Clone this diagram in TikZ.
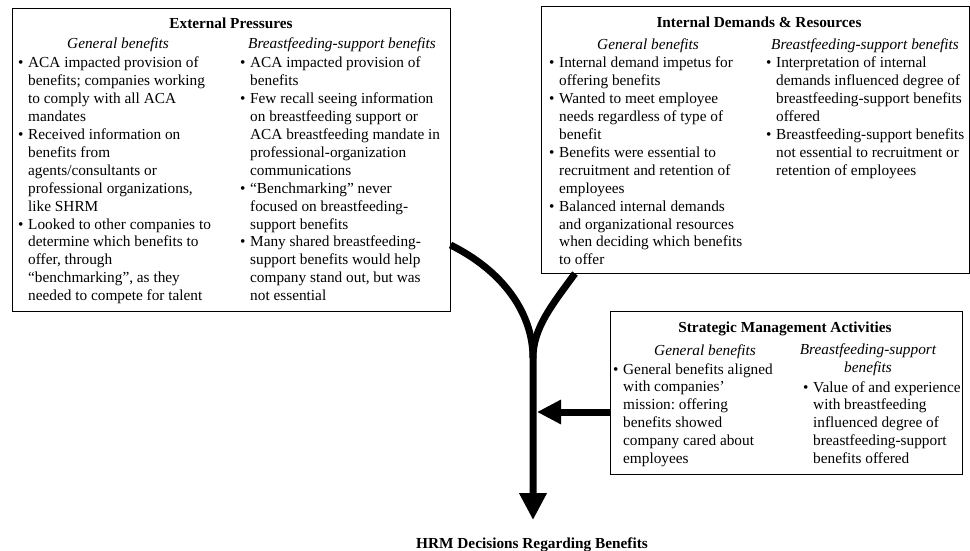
\documentclass[tikz,border=0pt]{standalone}
\usepackage{fontspec}
\setmainfont{Liberation Serif}
\usetikzlibrary{arrows.meta}
\frenchspacing
\newcommand{\txt}{\fontsize{15.3}{17.9}\selectfont}
\newcommand{\bl}{\makebox[10pt][l]{\textbullet}}

\begin{document}
\begin{tikzpicture}[x=1pt,y=-1pt,
                    box/.style={draw,line width=1pt,inner sep=0pt},
                    ttl/.style={anchor=base,inner sep=0pt,font=\txt\bfseries},
                    hdr/.style={anchor=base,inner sep=0pt,align=center,font=\txt\itshape},
                    lst/.style={anchor=base west,inner sep=0pt,font=\txt},
                    flow/.style={line width=7pt},
                    every node/.style={font=\txt}]
 \useasboundingbox (0,0) rectangle (970,551);
 \node[box,minimum width=438pt,minimum height=302pt] (ext) at (231,160) {};
 \node[box,minimum width=428pt,minimum height=266pt] (int) at (755,140) {};
 \node[box,minimum width=352pt,minimum height=163pt] (strat) at (786,392.5) {};
 \node[ttl] (hrm) at (532,548) {HRM Decisions Regarding Benefits};

 \node[ttl] (extT) at (231,29) {External Pressures};
 \node[hdr] (extG) at (118,49) {General benefits};
 \node[hdr] (extB) at (342,49) {Breastfeeding-support benefits};
 \node[lst] (extL) at (18,68) {\begin{tabular}[t]{@{}l@{}l@{}}
   \bl & ACA impacted provision of\\
       & benefits; companies working\\
       & to comply with all ACA\\
       & mandates\\
   \bl & Received information on\\
       & benefits from\\
       & agents/consultants or\\
       & professional organizations,\\
       & like SHRM\\
   \bl & Looked to other companies to\\
       & determine which benefits to\\
       & offer, through\\
       & “benchmarking”, as they\\
       & needed to compete for talent
  \end{tabular}};
 \node[lst] (extR) at (240,68) {\begin{tabular}[t]{@{}l@{}l@{}}
   \bl & ACA impacted provision of\\
       & benefits\\
   \bl & Few recall seeing information\\
       & on breastfeeding support or\\
       & ACA breastfeeding mandate in\\
       & professional-organization\\
       & communications\\
   \bl & “Benchmarking” never\\
       & focused on breastfeeding-\\
       & support benefits\\
   \bl & Many shared breastfeeding-\\
       & support benefits would help\\
       & company stand out, but was\\
       & not essential
  \end{tabular}};

 \node[ttl] (intT) at (759,28) {Internal Demands \& Resources};
 \node[hdr] (intG) at (648,50) {General benefits};
 \node[hdr] (intB) at (865,50) {Breastfeeding-support benefits};
 \node[lst] (intL) at (549,68) {\begin{tabular}[t]{@{}l@{}l@{}}
   \bl & Internal demand impetus for\\
       & offering benefits\\
   \bl & Wanted to meet employee\\
       & needs regardless of type of\\
       & benefit\\
   \bl & Benefits were essential to\\
       & recruitment and retention of\\
       & employees\\
   \bl & Balanced internal demands\\
       & and organizational resources\\
       & when deciding which benefits\\
       & to offer
  \end{tabular}};
 \node[lst] (intR) at (766,68) {\begin{tabular}[t]{@{}l@{}l@{}}
   \bl & Interpretation of internal\\
       & demands influenced degree of\\
       & breastfeeding-support benefits\\
       & offered\\
   \bl & Breastfeeding-support benefits\\
       & not essential to recruitment or\\
       & retention of employees
  \end{tabular}};

 \node[ttl] (stratT) at (785,332) {Strategic Management Activities};
 \node[hdr] (stratG) at (705,355) {General benefits};
 \node[hdr] (stratB) at (868,372) {Breastfeeding-support\\benefits};
 \node[lst] (stratL) at (613,374) {\begin{tabular}[t]{@{}l@{}l@{}}
   \bl & General benefits aligned\\
       & with companies’\\
       & mission: offering\\
       & benefits showed\\
       & company cared about\\
       & employees
  \end{tabular}};
 \node[lst] (stratR) at (803,392) {\begin{tabular}[t]{@{}l@{}l@{}}
   \bl & Value of and experience\\
       & with breastfeeding\\
       & influenced degree of\\
       & breastfeeding-support\\
       & benefits offered
  \end{tabular}};

 \coordinate (merge) at (533,358);
 \coordinate (join) at (537,412);
 \draw[flow,-{Triangle[length=27pt,width=26pt]},shorten >=17pt]
   ([yshift=-85pt]ext.east) .. controls (505,272) and (533,315) .. (merge) -- (merge |- hrm.north);
 \draw[flow] ([xshift=-180pt]int.south) .. controls (552,305) and (533,328) .. (merge);
 \draw[flow,-{Triangle[length=24pt,width=23pt]}] ([yshift=-19.5pt]strat.west) -- (join);
\end{tikzpicture}
\end{document}
